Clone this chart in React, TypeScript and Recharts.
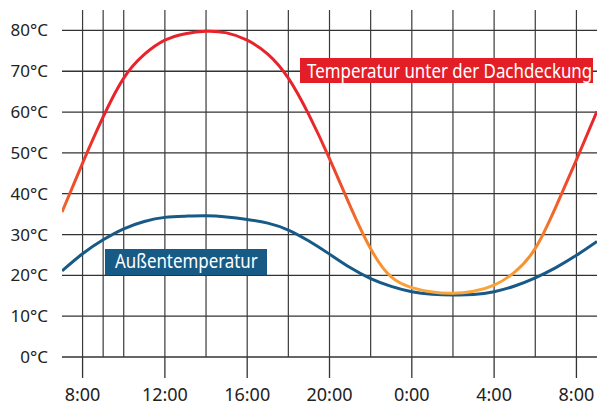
import { CartesianGrid, Line, LineChart, XAxis, YAxis } from "recharts";

// hours since midnight of day one (24 = 0:00 next day)
const hours = [7, 8, 9, 10, 11, 12, 13, 14, 15, 16, 17, 18, 19, 20, 21, 22, 23, 24, 25, 26, 27, 28, 29, 30, 31, 32, 33];
const roofTemp = [35.5, 47.5, 58.8, 68.3, 74.1, 77.6, 79.2, 79.8, 79.4, 77.6, 74.2, 68.3, 59.3, 48.6, 37, 26.5, 19.6, 17, 15.9, 15.6, 16.1, 17.6, 20.8, 26.6, 36.8, 48.3, 60.2];
const outsideTemp = [21.1, 25.3, 28.7, 31.4, 33.2, 34.2, 34.5, 34.6, 34.3, 33.7, 32.8, 31.1, 28.4, 25.2, 21.9, 19.2, 17.3, 16, 15.4, 15.2, 15.3, 16, 17.4, 19.4, 21.9, 24.9, 28.3];
const gridHours = [8, 9, 10, 11, 12, 13, 14, 15, 16, 17, 18, 19, 20, 21, 22, 23, 24, 25, 26, 27, 28, 29, 30, 31, 32];
const timeTicks = [8, 12, 16, 20, 24, 28, 32];
const tempTicks = [0, 10, 20, 30, 40, 50, 60, 70, 80];

const data = hours.map((h, i) => ({ h, roof: roofTemp[i], outside: outsideTemp[i] }));

const fmtTime = (v: number) => `${v % 24}:00`;

export default function App() {
  return (
    <div style={{ position: "absolute", left: 0, top: 0, width: 597, height: 405, background: "#fff", fontFamily: "'Noto Sans', sans-serif" }}>
      <LineChart width={597} height={405} data={data} margin={{ top: 10, right: 0, bottom: 0, left: 0 }}>
        <defs>
          <linearGradient id="roofGrad" gradientUnits="userSpaceOnUse" x1="0" y1="120" x2="0" y2="290">
            <stop offset="0" stopColor="#E8232B" />
            <stop offset="0.42" stopColor="#F0532A" />
            <stop offset="0.72" stopColor="#F5842A" />
            <stop offset="1" stopColor="#F9A53A" />
          </linearGradient>
        </defs>
        <XAxis
          dataKey="h"
          type="number"
          domain={[7, 33]}
          ticks={timeTicks}
          tickFormatter={fmtTime}
          axisLine={false}
          tickSize={21}
          tickMargin={10}
          tickLine={{ stroke: "#333", strokeWidth: 1.3 }}
          tick={{ fontSize: 18, fill: "#222" }}
          height={48}
          allowDataOverflow
        />
        <XAxis xAxisId="hours" dataKey="h" type="number" domain={[7, 33]} ticks={gridHours} hide />
        <YAxis
          type="number"
          domain={[0, 85]}
          ticks={tempTicks}
          tickFormatter={(v: number) => `${v}°C`}
          axisLine={false}
          tickLine={false}
          tickSize={0}
          tickMargin={14}
          tick={{ fontSize: 17, fill: "#222" }}
          width={62}
          allowDataOverflow
        />
        <CartesianGrid vertical={false} syncWithTicks stroke="#333" strokeWidth={1.3} />
        <CartesianGrid xAxisId="hours" horizontal={false} syncWithTicks stroke="#3a3a3a" strokeWidth={1.2} />
        <Line type="natural" dataKey="outside" stroke="#175A87" strokeWidth={3} dot={false} isAnimationActive={false} />
        <Line type="natural" dataKey="roof" stroke="url(#roofGrad)" strokeWidth={3} dot={false} isAnimationActive={false} />
      </LineChart>
      <svg width={597} height={405} style={{ position: "absolute", left: 0, top: 0, pointerEvents: "none" }}>
        <rect x={300} y={58} width={293} height={25} fill="#E31E26" />
        <text transform="translate(307 78) scale(0.845 1)" fontSize={20} fill="#fff">
          Temperatur unter der Dachdeckung
        </text>
        <rect x={105} y={249} width={162} height={26} fill="#175A85" />
        <text transform="translate(115 268) scale(0.845 1)" fontSize={20} fill="#fff">
          Außentemperatur
        </text>
      </svg>
    </div>
  );
}
